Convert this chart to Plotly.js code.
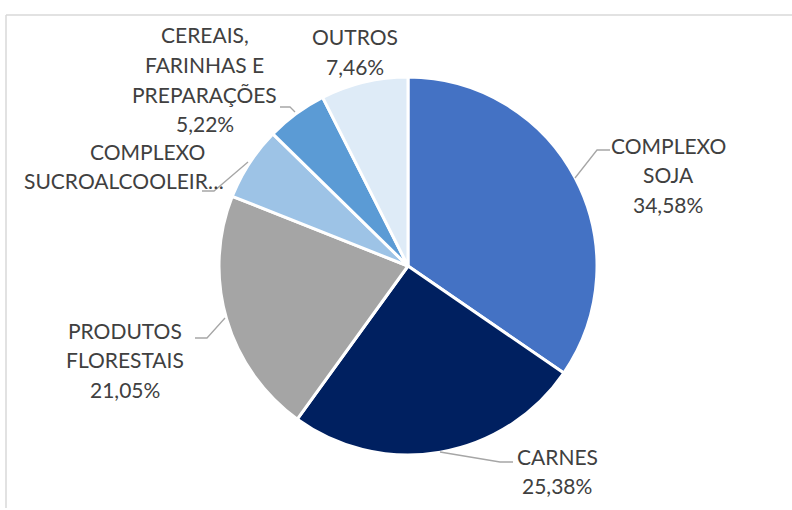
<!DOCTYPE html>
<html>
<head>
<meta charset="utf-8">
<script src="https://cdn.plot.ly/plotly-3.0.1.min.js"></script>
<style>html,body{margin:0;padding:0;background:#fff;}#chart{width:792px;height:510px;}</style>
</head>
<body>
<div id="chart"></div>
<script>
// ---- data ----
const categories = ['COMPLEXO SOJA', 'CARNES', 'PRODUTOS FLORESTAIS', 'COMPLEXO SUCROALCOOLEIRO', 'CEREAIS, FARINHAS E PREPARAÇÕES', 'OUTROS'];
const shares = [34.58, 25.38, 21.05, 6.31, 5.22, 7.46];
const labelLines = [['COMPLEXO', 'SOJA'], ['CARNES'], ['PRODUTOS', 'FLORESTAIS'], ['COMPLEXO', 'SUCROALCOOLEIR…'], ['CEREAIS,', 'FARINHAS E', 'PREPARAÇÕES'], ['OUTROS']];
const showPct = [true, true, true, false, true, true];
const colors = ['#4472C4', '#002060', '#A5A5A5', '#9DC3E6', '#5B9BD5', '#DEEBF7'];

// ---- layout config (pixel positions, not data) ----
const W = 792, H = 510;
const labelPos = [[668, 145], [557, 456], [125, 330], [147, 151], [205, 35], [355, 37]];
const lineGap = 29.5;
const leaders = [
  [[575, 178], [597, 150], [610, 150]],
  [[440, 452], [500, 462], [513, 462]],
  [[225, 318], [207, 338], [195, 338]],
  [[248, 162], [214, 191], [202, 191]],
  [[295, 112], [290, 107], [280, 107]],
  null
];
const px = x => x / W, py = y => 1 - y / H;

const annotations = [];
categories.forEach((c, i) => {
  const lines = labelLines[i].slice();
  if (showPct[i]) lines.push(shares[i].toFixed(2).replace('.', ',') + '%');
  lines.forEach((t, k) => {
    const long = t.length > 12;
    annotations.push({
      x: px(long ? 226 : labelPos[i][0]), y: py(labelPos[i][1] + k * lineGap),
      xref: 'paper', yref: 'paper', xanchor: long ? 'right' : 'center', yanchor: 'middle',
      text: t, showarrow: false,
      font: {family: 'Lato, sans-serif', size: 21, color: '#404040'}
    });
  });
});

const shapes = [
  {type: 'line', xref: 'paper', yref: 'paper', x0: px(6), x1: 1.01, y0: py(15), y1: py(15), line: {color: '#D9D9D9', width: 1.5}},
  {type: 'line', xref: 'paper', yref: 'paper', x0: px(6), x1: px(6), y0: py(15), y1: py(508), line: {color: '#D9D9D9', width: 1.5}}
];
leaders.forEach(l => {
  if (!l) return;
  const d = l.map((p, k) => (k ? 'L' : 'M') + px(p[0]) + ',' + py(p[1])).join(' ');
  shapes.push({type: 'path', xref: 'paper', yref: 'paper', path: d, line: {color: '#A6A6A6', width: 1.3}});
});

const cx = 408, cy = 266, r = 189;
const trace = {
  type: 'pie',
  labels: categories,
  values: shares,
  sort: false,
  direction: 'clockwise',
  rotation: 0,
  marker: {colors: colors, line: {color: '#FFFFFF', width: 3}},
  textinfo: 'none',
  hoverinfo: 'label+percent',
  domain: {x: [px(cx - r), px(cx + r)], y: [py(cy + r), py(cy - r)]}
};

Plotly.newPlot('chart', [trace], {
  width: W, height: H,
  margin: {l: 0, r: 0, t: 0, b: 0},
  paper_bgcolor: '#FFFFFF',
  showlegend: false,
  annotations: annotations,
  shapes: shapes
}, {displayModeBar: false, staticPlot: true});
</script>
</body>
</html>
